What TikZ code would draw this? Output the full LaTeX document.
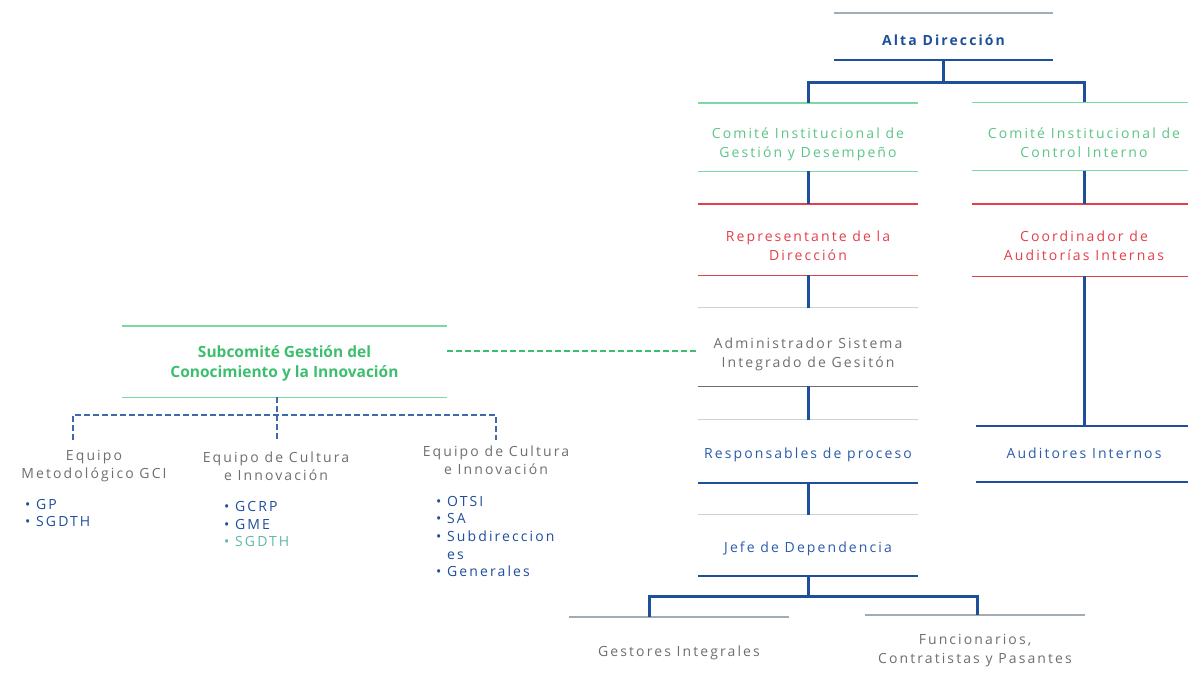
\documentclass[tikz,border=0pt]{standalone}
\usepackage{fontspec}
\setmainfont{Open Sans}[LetterSpace=15]
\newfontfamily\subfont{Open Sans}
\usetikzlibrary{calc}

\definecolor{dblue}{HTML}{1E4F9B}
\definecolor{tblue}{HTML}{2A5CA8}
\definecolor{lgreen}{HTML}{7DD9A3}
\definecolor{tgreen}{HTML}{5CC488}
\definecolor{sgreen}{HTML}{3DBE6E}
\definecolor{cred}{HTML}{E2404A}
\definecolor{tgray}{HTML}{6E6E6E}
\definecolor{lgray}{HTML}{A3ABB3}
\definecolor{pgray}{HTML}{C9D2DB}
\definecolor{fgray}{HTML}{E4E8EC}
\definecolor{teal}{HTML}{5FB8A8}

\begin{document}
\begin{tikzpicture}[x=1pt,y=-1pt]
\tikzset{
  box/.style={minimum width=220pt, inner sep=0pt},
  lbl/.style={inner sep=0pt, align=center, font=\fontsize{14}{19}\selectfont, yshift=-#1},
  conn/.style={dblue, line width=3pt},
  dashb/.style={dblue!85, line width=1.5pt, dash pattern=on 6pt off 3pt},
  dashg/.style={sgreen, line width=1.3pt, dash pattern=on 6pt off 3pt},
  gline/.style={lgreen, line width=1.4pt},
  rline/.style={cred, line width=1.4pt},
  bline/.style={dblue, line width=1.8pt},
  kline/.style={lgray, line width=1.4pt},
  pline/.style={pgray, line width=1.2pt},
  fline/.style={fgray, line width=1.2pt},
  team/.style={inner sep=0pt, align=center, tgray, font=\fontsize{14}{18}\selectfont},
  items/.style={inner sep=0pt, align=left, anchor=west, dblue, font=\fontsize{14}{17.6}\selectfont}
}
\useasboundingbox (0,0) rectangle (1188,675);

% right column
\node[box, minimum width=219pt, minimum height=47pt, label={[lbl=4pt, text=dblue, font=\fontsize{14}{19}\selectfont\bfseries]center:Alta Dirección}] (alta) at (943.5,36.5) {};
\node[box, minimum height=68pt, label={[lbl=7pt, text=tgreen]center:{Comité Institucional de\\Gestión y Desempeño}}] (cg) at (808,137) {};
\node[box, minimum width=224pt, minimum height=68pt, label={[lbl=6.5pt, text=tgreen]center:{Comité Institucional de\\Control Interno}}] (cc) at (1084,136.5) {};
\node[box, minimum height=71pt, label={[lbl=6.5pt, text=cred]center:{Representante de la\\Dirección}}] (rep) at (808,239.5) {};
\node[box, minimum width=224pt, minimum height=72pt, label={[lbl=5.5pt, text=cred]center:{Coordinador de\\Auditorías Internas}}] (coord) at (1084,240) {};
\node[box, minimum height=78pt, label={[lbl=7.5pt, text=tgray]center:{Administrador Sistema\\Integrado de Gesitón}}] (adm) at (808,347) {};
\node[box, minimum height=63pt, label={[lbl=3pt, text=tblue]center:Responsables de proceso}] (resp) at (808,451.5) {};
\node[box, minimum width=216pt, minimum height=56pt, label={[lbl=-1pt, text=tblue]center:Auditores Internos}] (aud) at (1084,454) {};
\node[box, minimum height=61pt, label={[lbl=3pt, text=tblue]center:Jefe de Dependencia}] (jefe) at (808,545.5) {};
\node[box, minimum height=59pt, label={[lbl=6pt, text=tgray]center:Gestores Integrales}] (gest) at (679,646.5) {};
\node[box, minimum height=61pt, label={[lbl=5.5pt, text=tgray]center:{Funcionarios,\\Contratistas y Pasantes}}] (func) at (975,645.5) {};

% left part
\node[box, minimum width=325pt, minimum height=71pt, label={[lbl=2pt, text=sgreen, font=\subfont\fontsize{15.5}{19.5}\selectfont\bfseries]center:{Subcomité Gestión del\\Conocimiento y la Innovación}}] (sub) at (284.5,361.5) {};
\node[team] (eq1) at (94,466) {Equipo\\Metodológico GCI};
\node[team] (eq2) at (276,466) {Equipo de Cultura\\e Innovación};
\node[team] (eq3) at (496,460) {Equipo de Cultura\\e Innovación};
\node[items] (it1) at (25,513) {• GP\\• SGDTH};
\node[items] (it2) at (224,524) {• GCRP\\• GME\\\textcolor{teal}{• SGDTH}};
\node[items] (it3) at (436,536.5) {• OTSI\\• SA\\• Subdireccion\\\phantom{• }es\\• Generales};

% box lines
\draw[kline] (alta.north west) -- (alta.north east);
\draw[bline] (alta.south west) -- (alta.south east);
\foreach \n in {cg,cc,sub} {
  \draw[gline] (\n.north west) -- (\n.north east);
  \draw[gline] (\n.south west) -- (\n.south east);
}
\foreach \n in {rep,coord} {
  \draw[rline] (\n.north west) -- (\n.north east);
  \draw[rline] (\n.south west) -- (\n.south east);
}
\draw[pline] (adm.north west) -- (adm.north east);
\draw[tgray, line width=1.4pt] (adm.south west) -- (adm.south east);
\draw[pline] (resp.north west) -- (resp.north east);
\draw[bline] (resp.south west) -- (resp.south east);
\draw[bline] (aud.north west) -- (aud.north east);
\draw[bline] (aud.south west) -- (aud.south east);
\draw[pline] (jefe.north west) -- (jefe.north east);
\draw[bline] (jefe.south west) -- (jefe.south east);
\foreach \n in {gest,func} {
  \draw[kline] (\n.north west) -- (\n.north east);
  \draw[fline] (\n.south west) -- (\n.south east);
}

% connectors
\coordinate (j1) at (943.5,82);
\draw[conn] (alta.south) -- (j1);
\draw[conn] (cg.north) |- (j1) -| (cc.north);
\draw[conn] (cg.south) -- (rep.north);
\draw[conn] (rep.south) -- (adm.north);
\draw[conn] (adm.south) -- (resp.north);
\draw[conn] (resp.south) -- (jefe.north);
\draw[conn] (cc.south) -- (coord.north);
\draw[conn] (coord.south) -- (aud.north);
\coordinate (j2) at (808,596);
\draw[conn] (jefe.south) -- (j2);
\draw[conn] ([xshift=-30pt]gest.north) |- (j2) -| ([xshift=2pt]func.north);

% dashed links
\draw[dashg] ([yshift=-4pt]sub.east |- adm.west) -- ([yshift=-4pt]adm.west);
\coordinate (bus) at (277,415);
\coordinate (t1) at (73,440);
\coordinate (t2) at (277,440);
\coordinate (t3) at (496,440);
\draw[dashb] (sub.south -| bus) -- (t2);
\draw[dashb] (t1) -- (t1 |- bus) -- (t3 |- bus) -- (t3);
\end{tikzpicture}
\end{document}
